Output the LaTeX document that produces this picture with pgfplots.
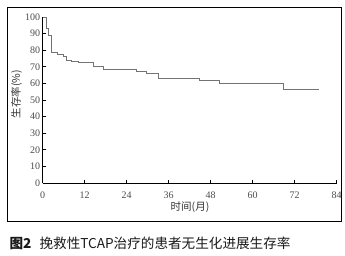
\documentclass[border=0pt]{standalone}
\usepackage{pgfplots}
\pgfplotsset{compat=1.18}
\usepackage{fontspec}
\setmainfont{Liberation Serif}
\newfontfamily\cjk{Noto Sans CJK SC}
\begin{document}
\begin{tikzpicture}[x=1pt,y=1pt]
\useasboundingbox (0,0) rectangle (345,256);
\draw[line width=0.7pt] (7,249) rectangle (341,35);
\begin{axis}[
  at={(42.7pt,73pt)}, anchor=south west,
  scale only axis, width=294pt, height=166pt,
  xmin=0, xmax=84, ymin=0, ymax=100,
  axis lines=left, axis line style={-, line width=0.7pt},
  xtick={0,12,24,36,48,60,72,84},
  ytick={0,10,20,30,40,50,60,70,80,90,100},
  tick align=inside, major tick length=3pt,
  tick style={black, line width=0.6pt},
  /pgf/number format/assume math mode=true,
  ticklabel style={font=\fontsize{10}{11}\selectfont, text=black!70},
  yticklabel style={xshift=1pt},
  xticklabel style={yshift=-5pt},
  clip=false,
]
\addplot[const plot, black!55, line width=0.8pt] coordinates {
(0,100) (1.1,93) (1.6,89) (2.6,78.5) (4.3,77.5) (5.9,76) (6.9,74) (8.3,73)
(10.2,72.5) (14.5,70) (17.3,68.5) (26.7,67.5) (29.7,65.8) (33,63.3)
(44.7,61.6) (50.5,59.8) (68.7,56.2) (79,56.2)};
\end{axis}
\node[font=\cjk\fontsize{10.5}{11}\selectfont, text=black!80] at (190,49) {时间(月)};
\node[font=\cjk\fontsize{10.5}{11}\selectfont, text=black!80, rotate=90] at (16.5,162) {生存率(\%)};
\node[anchor=west, font=\cjk\fontsize{13.6}{14}\selectfont, text=black!90] at (6,12.5) {\textbf{图2}\hspace{0.6em}挽救性TCAP治疗的患者无生化进展生存率};
\end{tikzpicture}
\end{document}
